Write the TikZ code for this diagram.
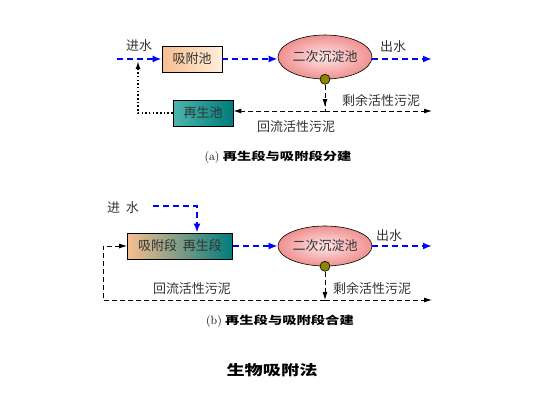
\documentclass[tikz,border=0pt]{standalone}
\usepackage{fontspec}
\usepackage{xcolor}
\usepackage{tikz}
\usetikzlibrary{positioning,arrows.meta,shapes.geometric,decorations.markings}
\newfontfamily\cjk{Noto Sans CJK SC}
\newfontfamily\cjkwide[FakeStretch=1.3]{Noto Sans CJK SC}
\definecolor{peach}{HTML}{F7BE8F}
\definecolor{peachlt}{HTML}{FFEEDD}
\definecolor{tealdk}{HTML}{007C7C}
\definecolor{tealmd}{HTML}{4DB5AE}
\definecolor{tealLt}{HTML}{BFE6E2}
\definecolor{pinkin}{HTML}{FFE6E6}
\definecolor{pinkout}{HTML}{F09090}

\begin{document}
\begin{tikzpicture}[
    x=1pt, y=-1pt,
    lbl/.style={font=\cjk\fontsize{13}{15}\selectfont, text=black!80, inner sep=0pt},
    pool/.style={draw, line width=0.8pt, minimum height=26pt, inner sep=0pt, font=\cjk\fontsize{13}{15}\selectfont, text=black!80},
    settler/.style={ellipse, draw, line width=0.6pt, minimum width=94pt, inner color=pinkin, outer color=pinkout, inner sep=0pt, font=\cjk\fontsize{13}{15}\selectfont, text=black!80},
    valve/.style={circle, draw, line width=0.6pt, fill=olive, minimum size=10pt, inner sep=0pt},
    flow/.style={blue, line width=1.8pt, dash pattern=on 6pt off 4pt, -{Latex[length=9pt,width=7pt]}},
    sludge/.style={black, line width=0.9pt, dash pattern=on 5pt off 3pt, -{Latex[length=8pt,width=5pt]}},
    back/.style={black, line width=1.5pt, dash pattern=on 1.5pt off 2.2pt, -{Latex[length=8pt,width=5pt]}},
    captxt/.style={font=\cjkwide\bfseries\fontsize{11}{13}\selectfont, inner sep=0pt},
    midarrow/.style={postaction={decorate}, decoration={markings, mark=at position 0.85 with {\arrow{Latex[length=8pt,width=5pt]}}}}
]
\useasboundingbox (0,0) rectangle (550,400);

% (a)
\node[pool, minimum width=60pt, left color=peach, right color=peachlt] (ads) at (192,59) {吸附池};
\node[settler, minimum height=44pt] (sett) at (325,57) {二次沉淀池};
\node[valve] (va) at (sett.south) {};
\node[pool, minimum width=60pt, left color=tealmd, middle color=tealLt, right color=tealdk] (regen) at (203,113) {再生池};
\coordinate (inA) at (117,59);
\coordinate (outA) at (432,59);
\coordinate (mixA) at (138,59);
\coordinate (ja) at (va |- 0,111);
\coordinate (exA) at (outA |- ja);
\coordinate (upA) at (mixA |- regen);
\draw[flow] (inA) -- (ads.west);
\draw[flow] (ads.east) -- (sett.west |- ads);
\draw[flow] (sett.east |- outA) -- (outA);
\draw[sludge, -, midarrow] (va) -- (ja);
\draw[sludge] (ja) -- (exA);
\draw[sludge] (ja) -- (regen.east |- ja);
\draw[back, shorten >=2pt] (regen.west) -- (upA) -- (mixA);
\node[lbl] (inAl) at (139,46) {进水};
\node[lbl] (outAl) at (393,47) {出水};
\node[lbl] (exAl) at (381,100) {剩余活性污泥};
\node[lbl] (retAl) at (296,127) {回流活性污泥};
\node[captxt] (capa) at (278,157) {{\normalfont\fontsize{12}{13}\selectfont(a)} 再生段与吸附段分建};

% (b)
\node[pool, minimum width=105pt, left color=peach, middle color=white, right color=tealdk] (comb) at (180,246) {吸附段\hspace{6pt}再生段};
\node[settler, minimum height=40pt] (settB) at (325,246) {二次沉淀池};
\node[valve] (vb) at (settB.south) {};
\coordinate (inB) at (153,206);
\coordinate (bendB) at (197,206);
\coordinate (outB) at (432,246);
\coordinate (jb) at (vb |- 0,300);
\coordinate (exB) at (432,300);
\coordinate (cornerB) at (103,300);
\draw[flow] (inB) -- (bendB) -- (bendB |- comb.north);
\draw[flow] (comb) -- (settB);
\draw[flow] (settB) -- (outB);
\draw[sludge] (vb) -- (jb);
\draw[sludge] (jb) -- (exB);
\draw[sludge] (jb) -- (cornerB) -- (cornerB |- comb) -- (comb.west);
\node[lbl] (inBl) at (123,208) {进\ \ 水};
\node[lbl] (outBl) at (389,236) {出水};
\node[lbl] (retBl) at (192,289) {回流活性污泥};
\node[lbl] (exBl) at (372,288) {剩余活性污泥};
\node[captxt] (capb) at (280,321) {{\normalfont\fontsize{12}{13}\selectfont(b)} 再生段与吸附段合建};

\node[captxt, font=\cjkwide\bfseries\fontsize{14}{16}\selectfont] (title) at (272,370) {生物吸附法};
\end{tikzpicture}
\end{document}
